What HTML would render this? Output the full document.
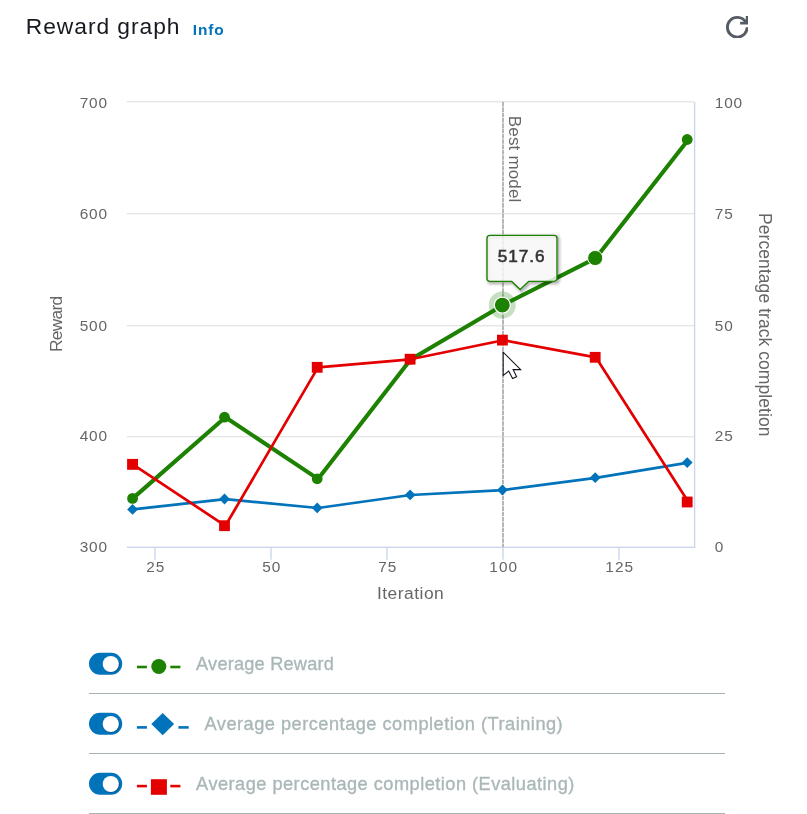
<!DOCTYPE html>
<html lang="en">
<head>
<meta charset="utf-8">
<title>Reward graph</title>
<style>
  html, body { margin: 0; padding: 0; background: #ffffff; }
  body { width: 807px; height: 814px; position: relative; overflow: hidden;
         font-family: "Liberation Sans", sans-serif; color: #16191f; }
  .header { position: absolute; left: 0; top: 0; width: 807px; height: 56px; }
  .header h2 { position: absolute; left: 25.8px; top: 11.2px; margin: 0; font-weight: 400;
               font-size: 22.8px; line-height: 30px; color: #16191f; white-space: nowrap; letter-spacing: 0.95px; }
  .header .info { position: absolute; left: 192.8px; top: 20.2px; font-weight: 700; font-size: 15.4px; letter-spacing: 0.85px;
               line-height: 20px; color: #0073bb; text-decoration: none; white-space: nowrap; }
  .header .refresh { position: absolute; left: 725.6px; top: 15.6px; width: 22.6px; height: 22.6px; }
  .chart { position: absolute; left: 0; top: 0; width: 807px; height: 640px; }
  .chart text { font-family: "Liberation Sans", sans-serif; }
  .header, .chart, .legend { will-change: transform; }
  .legend { position: absolute; left: 89px; top: 634px; width: 636px; margin: 0; padding: 0; list-style: none; }
  .legend li { position: relative; height: 60px; box-sizing: border-box; }
  .legend li::after { content: ""; position: absolute; left: 0; right: 0; top: 59px; height: 1px; background: #a7b4b5; }
  .toggle { position: absolute; left: 0; top: 18px; width: 34px; height: 24px; }
  .sym { position: absolute; left: 40px; top: 10px; width: 70px; height: 44px; }
  .lbl { position: absolute; top: 16.7px; font-size: 18.2px; line-height: 26px; color: #aab7b8; white-space: nowrap; -webkit-text-stroke: 0.35px #aab7b8; }
</style>
</head>
<body>

<div class="header">
  <h2>Reward graph</h2>
  <a class="info">Info</a>
  <svg class="refresh" viewBox="0 0 16 16" fill="none" stroke="#545b64" stroke-width="2" stroke-linejoin="miter">
    <path d="M10 5h5V0"/>
    <path d="M15 8a6.957 6.957 0 0 1-7 7 6.957 6.957 0 0 1-7-7 6.957 6.957 0 0 1 7-7 6.870 6.870 0 0 1 6.300 4"/>
  </svg>
</div>

<svg class="chart" width="807" height="640" viewBox="0 0 807 640">
  <!-- grid lines -->
  <g fill="#e6e6e6">
    <rect x="127" y="101.0" width="566.9" height="1.4"/>
    <rect x="127" y="213.0" width="566.9" height="1.4"/>
    <rect x="127" y="325.0" width="566.9" height="1.4"/>
    <rect x="127" y="436.0" width="566.9" height="1.4"/>
  </g>
  <!-- axis lines & ticks -->
  <g fill="#ccd6eb">
    <rect x="127" y="546.6" width="568.3" height="1.4"/>
    <rect x="693.9" y="102.0" width="1.4" height="446"/>
    <rect x="154.3" y="547" width="1.4" height="12.7"/>
    <rect x="270.3" y="547" width="1.4" height="12.7"/>
    <rect x="386.3" y="547" width="1.4" height="12.7"/>
    <rect x="502.3" y="547" width="1.4" height="12.7"/>
    <rect x="618.3" y="547" width="1.4" height="12.7"/>
  </g>

  <!-- best model plot line -->
  <line x1="503" y1="102" x2="503" y2="547" stroke="#999999" stroke-width="1.4" stroke-dasharray="4.6 0.72"/>
  <text transform="translate(509.1,115.8) rotate(90)" font-size="17" fill="#666666" letter-spacing="0.17">Best model</text>

  <!-- y axis labels (left) -->
  <g font-size="15.4" fill="#666666" text-anchor="end" letter-spacing="0.8">
    <text x="107.8" y="107.8">700</text>
    <text x="107.8" y="219.0">600</text>
    <text x="107.8" y="331.0">500</text>
    <text x="107.8" y="440.8">400</text>
    <text x="107.8" y="551.9">300</text>
  </g>
  <!-- y axis labels (right) -->
  <g font-size="15.4" fill="#666666" text-anchor="start" letter-spacing="0.8">
    <text x="714.8" y="107.8">100</text>
    <text x="714.8" y="219.0">75</text>
    <text x="714.8" y="331.0">50</text>
    <text x="714.8" y="440.8">25</text>
    <text x="714.8" y="551.9">0</text>
  </g>
  <!-- x axis labels -->
  <g font-size="15.4" fill="#666666" text-anchor="middle" letter-spacing="1.0">
    <text x="155.7" y="572.2">25</text>
    <text x="271.7" y="572.2">50</text>
    <text x="387.7" y="572.2">75</text>
    <text x="503.7" y="572.2">100</text>
    <text x="619.7" y="572.2">125</text>
  </g>
  <!-- axis titles -->
  <text x="410.6" y="598.8" font-size="17.4" fill="#666666" text-anchor="middle" letter-spacing="0.5">Iteration</text>
  <text transform="translate(61.7,324.3) rotate(-90)" font-size="17.4" fill="#666666" text-anchor="middle" letter-spacing="-0.72">Reward</text>
  <text transform="translate(759.0,324.8) rotate(90)" font-size="17.5" fill="#666666" text-anchor="middle" letter-spacing="0.06">Percentage track completion</text>

  <!-- series: training completion (blue) -->
  <g>
    <polyline fill="none" stroke="#0073bb" stroke-width="2.7" stroke-linejoin="round" stroke-linecap="round"
      points="132.8,509.4 225.4,499.2 318.0,508.0 410.6,495.0 503.2,490.1 595.8,477.8 688.4,462.7"/>
    <g fill="#0073bb">
      <path d="M132.55 504.0l5.4 5.4l-5.4 5.4l-5.4 -5.4z"/>
      <path d="M224.5 493.6l5.4 5.4l-5.4 5.4l-5.4 -5.4z"/>
      <path d="M317.2 502.5l5.4 5.4l-5.4 5.4l-5.4 -5.4z"/>
      <path d="M410.1 489.5l5.4 5.4l-5.4 5.4l-5.4 -5.4z"/>
      <path d="M502.4 484.6l5.4 5.4l-5.4 5.4l-5.4 -5.4z"/>
      <path d="M595.2 472.3l5.4 5.4l-5.4 5.4l-5.4 -5.4z"/>
      <path d="M687.2 457.2l5.4 5.4l-5.4 5.4l-5.4 -5.4z"/>
    </g>
  </g>

  <!-- series: average reward (green) -->
  <g>
    <polyline fill="none" stroke="#1d8102" stroke-width="4.1" stroke-linejoin="round" stroke-linecap="round"
      points="132.8,498.4 225.4,417.3 318.0,478.9 410.6,359.4 503.2,305.0 595.8,258.1 688.4,139.5"/>
    <g fill="#1d8102">
      <circle cx="132.55" cy="498.4" r="5.4"/>
      <circle cx="224.5" cy="417.2" r="5.4"/>
      <circle cx="317.2" cy="478.8" r="5.4"/>
      <circle cx="410.1" cy="359.3" r="5.4"/>
      <circle cx="595.2" cy="258" r="7.6" stroke="#ffffff" stroke-width="1"/>
      <circle cx="687.2" cy="139.5" r="5.4"/>
    </g>
    <!-- hover halo + marker -->
    <circle cx="502.3" cy="305.1" r="13.5" fill="#1d8102" fill-opacity="0.25"/>
    <circle cx="502.3" cy="305.1" r="8.05" fill="#1d8102" stroke="#ffffff" stroke-width="1.3"/>
  </g>

  <!-- series: evaluating completion (red) -->
  <g>
    <polyline fill="none" stroke="#e40000" stroke-width="2.7" stroke-linejoin="round" stroke-linecap="round"
      points="132.8,464.4 225.4,525.8 318.0,367.4 410.6,359.3 503.2,340.2 595.8,357.3 688.4,502.0"/>
    <g fill="#e40000">
      <rect x="127.1" y="458.9" width="10.9" height="10.9"/>
      <rect x="219.1" y="520.3" width="10.8" height="10.8"/>
      <rect x="311.8" y="361.9" width="10.8" height="10.8"/>
      <rect x="404.7" y="353.8" width="10.8" height="10.8"/>
      <rect x="497.0" y="334.7" width="10.8" height="10.8"/>
      <rect x="589.8" y="351.9" width="10.8" height="10.8"/>
      <rect x="681.8" y="496.6" width="10.8" height="10.8"/>
    </g>
  </g>

  <!-- tooltip -->
  <g>
    <path d="M490 235.4h64a3 3 0 0 1 3 3v40a3 3 0 0 1 -3 3h-25.300l-8.500 8.200l-8.500 -8.200h-21.700a3 3 0 0 1 -3 -3v-40a3 3 0 0 1 3 -3z"
          transform="translate(1.4,1.4)" fill="none" stroke="#000000" stroke-opacity="0.05" stroke-width="7"/>
    <path d="M490 235.4h64a3 3 0 0 1 3 3v40a3 3 0 0 1 -3 3h-25.300l-8.500 8.200l-8.500 -8.200h-21.700a3 3 0 0 1 -3 -3v-40a3 3 0 0 1 3 -3z"
          transform="translate(1.4,1.4)" fill="none" stroke="#000000" stroke-opacity="0.10" stroke-width="4.2"/>
    <path d="M490 235.4h64a3 3 0 0 1 3 3v40a3 3 0 0 1 -3 3h-25.300l-8.500 8.200l-8.500 -8.200h-21.700a3 3 0 0 1 -3 -3v-40a3 3 0 0 1 3 -3z"
          transform="translate(1.4,1.4)" fill="none" stroke="#000000" stroke-opacity="0.15" stroke-width="1.4"/>
    <path d="M490 235.4h64a3 3 0 0 1 3 3v40a3 3 0 0 1 -3 3h-25.300l-8.500 8.200l-8.500 -8.200h-21.700a3 3 0 0 1 -3 -3v-40a3 3 0 0 1 3 -3z"
          fill="#f7f7f7" fill-opacity="0.85" stroke="#1d8102" stroke-width="1.4"/>
    <text x="521.7" y="261.6" font-size="17.2" font-weight="400" fill="#333333" stroke="#333333" stroke-width="0.6" text-anchor="middle" letter-spacing="0.95">517.6</text>
  </g>

  <!-- mouse cursor -->
  <path d="M503.2 352.2L503.2 375.5L508.7 371L512.6 378.5L516.6 376.8L513.1 369.6L520.7 369.6Z"
        fill="#ffffff" stroke="#10101a" stroke-width="1.05" stroke-linejoin="miter"/>
</svg>

<ul class="legend">
  <li>
    <svg class="toggle" viewBox="0 0 34 24">
      <rect x="0" y="0.7" width="33.2" height="22.1" rx="11.05" fill="#0073bb"/>
      <circle cx="22.5" cy="12.7" r="8.1" fill="#00284f" fill-opacity="0.45"/>
      <circle cx="21.8" cy="12.0" r="8.1" fill="#ffffff"/>
    </svg>
    <svg class="sym" viewBox="0 0 70 44">
      <g stroke="#1d8102" stroke-width="2.6"><line x1="7.9" y1="23.0" x2="17.9" y2="23.0"/><line x1="41.3" y1="23.0" x2="51.4" y2="23.0"/></g>
      <circle cx="29.8" cy="22.5" r="7.5" fill="#1d8102"/>
    </svg>
    <span class="lbl" style="left:107.1px; letter-spacing:0.2px">Average Reward</span>
  </li>
  <li>
    <svg class="toggle" viewBox="0 0 34 24">
      <rect x="0" y="0.7" width="33.2" height="22.1" rx="11.05" fill="#0073bb"/>
      <circle cx="22.5" cy="12.7" r="8.1" fill="#00284f" fill-opacity="0.45"/>
      <circle cx="21.8" cy="12.0" r="8.1" fill="#ffffff"/>
    </svg>
    <svg class="sym" viewBox="0 0 70 44">
      <g stroke="#0073bb" stroke-width="2.6"><line x1="7.9" y1="23.4" x2="17.9" y2="23.4"/><line x1="49.4" y1="23.4" x2="59.7" y2="23.4"/></g>
      <path d="M33.700 8.900l11.400 11.200l-11.400 11.200l-11.400 -11.200z" fill="#0073bb"/>
    </svg>
    <span class="lbl" style="left:115.5px; letter-spacing:0.5px">Average percentage completion (Training)</span>
  </li>
  <li>
    <svg class="toggle" viewBox="0 0 34 24">
      <rect x="0" y="0.7" width="33.2" height="22.1" rx="11.05" fill="#0073bb"/>
      <circle cx="22.5" cy="12.7" r="8.1" fill="#00284f" fill-opacity="0.45"/>
      <circle cx="21.8" cy="12.0" r="8.1" fill="#ffffff"/>
    </svg>
    <svg class="sym" viewBox="0 0 70 44">
      <g stroke="#e40000" stroke-width="2.6"><line x1="7.9" y1="22.1" x2="17.9" y2="22.1"/><line x1="41.300" y1="22.1" x2="51.400" y2="22.1"/></g>
      <rect x="21.9" y="15.200" width="16.000" height="15.600" fill="#e40000"/>
    </svg>
    <span class="lbl" style="left:107.1px; letter-spacing:0.48px">Average percentage completion (Evaluating)</span>
  </li>
</ul>

</body>
</html>
